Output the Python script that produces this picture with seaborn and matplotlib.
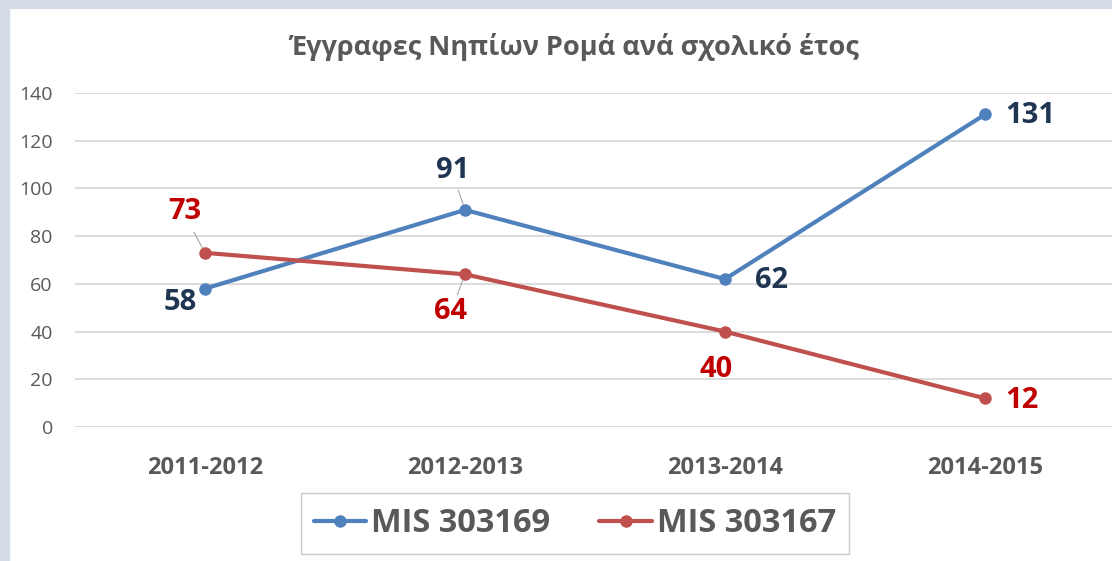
import pandas as pd
import matplotlib.pyplot as plt
import matplotlib.patches as mpatches
import seaborn as sns

# δεδομένα
years = ['2011-2012', '2012-2013', '2013-2014', '2014-2015']
mis_303169 = [58, 91, 62, 131]
mis_303167 = [73, 64, 40, 12]
series_names = ['MIS 303169', 'MIS 303167']
y_ticks = [0, 20, 40, 60, 80, 100, 120, 140]
title = 'Έγγραφες Νηπίων Ρομά ανά σχολικό έτος'

df = pd.DataFrame({
    'year': years * 2,
    'value': mis_303169 + mis_303167,
    'series': [series_names[0]] * len(years) + [series_names[1]] * len(years),
})

sns.set_style('white')
plt.rcParams['font.family'] = ['Open Sans', 'DejaVu Sans']

line_colors = {series_names[0]: '#4F81BD', series_names[1]: '#C0504D'}
label_colors = {series_names[0]: '#1F3552', series_names[1]: '#C00000'}
grey = '#595959'

fig = plt.figure(figsize=(11.12, 5.61), dpi=100)
fig.patch.set_facecolor('white')

# γκρι-μπλε πλαίσιο πάνω και αριστερά
border = '#D6DCE5'
fig.patches.append(mpatches.Rectangle((0, 0), 9 / 1112, 1, transform=fig.transFigure,
                                      color=border, zorder=0))
fig.patches.append(mpatches.Rectangle((0, 1 - 8 / 561), 1, 8 / 561, transform=fig.transFigure,
                                      color=border, zorder=0))

ax = fig.add_axes([75 / 1112, 134 / 561, 1040 / 1112, 334 / 561])
ax.set_facecolor('none')

sns.lineplot(data=df, x='year', y='value', hue='series', palette=line_colors,
             marker='o', markersize=9, markeredgewidth=0, linewidth=3,
             sort=False, ax=ax, zorder=3)

ax.set_xlim(-0.5, 3.5)
ax.set_ylim(0, 140)
ax.set_yticks(y_ticks)
ax.grid(axis='y', color='#D9D9D9', linewidth=1.3)
ax.grid(axis='x', visible=False)
for s in ax.spines.values():
    s.set_visible(False)
ax.tick_params(axis='both', length=0)
ax.tick_params(axis='y', labelsize=14, labelcolor=grey, pad=16)
ax.tick_params(axis='x', labelsize=17, labelcolor=grey, pad=21)
for t in ax.get_xticklabels():
    t.set_fontweight('bold')
ax.set_xlabel('')
ax.set_ylabel('')

# ετικέτες τιμών (μετατόπιση σε pixels)
offsets = {
    series_names[0]: [(-25, -14), (-12, 39), (47, -1), (45, -1)],
    series_names[1]: [(-20, 41), (-14, -37), (-9, -38), (37, -2)],
}
leaders = {(series_names[1], 0), (series_names[0], 1), (series_names[1], 1)}
for name, vals in zip(series_names, [mis_303169, mis_303167]):
    for i, v in enumerate(vals):
        dx, dy = offsets[name][i]
        ax.annotate(str(v), (i, v), xytext=(dx, dy), textcoords='offset pixels',
                    ha='center', va='center', fontsize=21, fontweight='bold',
                    color=label_colors[name], zorder=5)
        if (name, i) in leaders:
            ax.annotate('', (i, v), xytext=(dx * 0.55, dy * 0.55 if dy < 0 else dy * 0.5),
                        textcoords='offset pixels',
                        arrowprops=dict(arrowstyle='-', color='#A6A6A6', lw=0.8,
                                        shrinkA=0, shrinkB=4), zorder=2)

fig.text(574 / 1112, 1 - 47 / 561, title, ha='center', va='center',
         fontsize=19.5, fontweight='bold', color=grey)

handles, labels = ax.get_legend_handles_labels()
ax.legend_.remove()
leg = fig.legend(handles, labels, loc='center', bbox_to_anchor=(575 / 1112, 37.5 / 561),
                 ncol=2, frameon=True, fancybox=False, edgecolor='#BFBFBF',
                 prop={'size': 23.5, 'weight': 'bold'}, handlelength=1.6,
                 handletextpad=0.15, columnspacing=1.5, borderpad=0.42,
                 borderaxespad=0)
for t in leg.get_texts():
    t.set_color(grey)
leg.get_frame().set_linewidth(1.0)

fig.savefig('out.png', dpi=100, facecolor='white')
